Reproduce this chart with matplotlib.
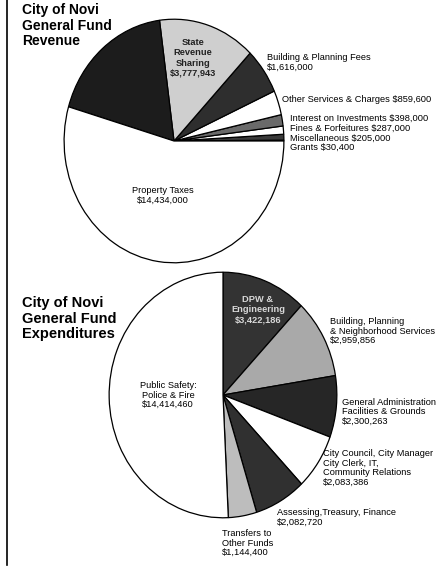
import matplotlib
matplotlib.use("Agg")
import matplotlib.pyplot as plt

plt.rcParams['font.family'] = ['Liberation Sans', 'DejaVu Sans']

W, H = 441, 570

# Revenue (counterclockwise from 3 o'clock)
rev_names = ["Grants", "Miscellaneous", "Fines & Forfeitures", "Interest on Investments",
             "Other Services & Charges", "Building & Planning Fees",
             "State Revenue Sharing", "(illegible)", "Property Taxes"]
rev_values = [30400, 205000, 287000, 398000, 859600, 1616000, 3777943, 4860000, 14434000]
rev_colors = ["#f4f4f4", "#3a3a3a", "#ffffff", "#6a6a6a", "#ffffff", "#2e2e2e",
              "#cfcfcf", "#1c1c1c", "#ffffff"]

# Expenditures (clockwise from 12 o'clock)
exp_names = ["DPW & Engineering", "Building, Planning & Neighborhood Services",
             "General Administration Facilities & Grounds",
             "City Council, City Manager City Clerk, IT, Community Relations",
             "Assessing, Treasury, Finance", "Transfers to Other Funds",
             "Public Safety: Police & Fire"]
exp_values = [3422186, 2959856, 2300263, 2083386, 2082720, 1144400, 14414460]
exp_colors = ["#333333", "#a9a9a9", "#262626", "#ffffff", "#303030", "#bdbdbd", "#ffffff"]

fig = plt.figure(figsize=(W / 100, H / 100), dpi=100)
fig.patch.set_facecolor("white")


def pie_axes(cx, cy, rx, ry):
    ax = fig.add_axes([(cx - rx) / W, (H - cy - ry) / H, 2 * rx / W, 2 * ry / H])
    return ax


ax1 = pie_axes(174, 141, 111, 123)
ax1.pie(rev_values, colors=rev_colors, startangle=0, counterclock=True,
        wedgeprops=dict(edgecolor="black", linewidth=0.9))
ax1.set_aspect("auto")
ax1.set_xlim(-1.01, 1.01)
ax1.set_ylim(-1.01, 1.01)
ax1.axis("off")

ax2 = pie_axes(223, 395, 115, 124)
ax2.pie(exp_values, colors=exp_colors, startangle=90, counterclock=False,
        wedgeprops=dict(edgecolor="black", linewidth=0.9))
ax2.set_aspect("auto")
ax2.set_xlim(-1.01, 1.01)
ax2.set_ylim(-1.01, 1.01)
ax2.axis("off")

# text layer in pixel coordinates
bg = fig.add_axes([0, 0, 1, 1], zorder=5)
bg.set_xlim(0, W)
bg.set_ylim(H, 0)
bg.axis("off")
bg.patch.set_alpha(0)

bg.plot([7, 7], [0, 565], color="black", lw=1.2)

bg.text(22, 3, "City of Novi\nGeneral Fund\nRevenue", fontsize=10, fontweight="bold",
        va="top", ha="left", linespacing=1.15)
bg.text(22, 296, "City of Novi\nGeneral Fund\nExpenditures", fontsize=10.5, fontweight="bold",
        va="top", ha="left", linespacing=1.15)

small = dict(fontsize=6.7, va="center", ha="left", linespacing=1.1)

bg.text(193, 58, "State\nRevenue\nSharing\n$3,777,943", fontsize=6.7, ha="center",
        va="center", linespacing=1.15, fontweight="bold", color="#222222")
bg.text(267, 62, "Building & Planning Fees\n$1,616,000", **small)
bg.text(282, 100, "Other Services & Charges $859,600", **small)
bg.text(290, 118, "Interest on Investments $398,000", **small)
bg.text(290, 128, "Fines & Forfeitures $287,000", **small)
bg.text(290, 138, "Miscellaneous $205,000", **small)
bg.text(290, 147, "Grants $30,400", **small)
bg.text(163, 195, "Property Taxes\n$14,434,000", fontsize=6.7, ha="center", va="center",
        linespacing=1.1)

bg.text(258, 310, "DPW &\nEngineering\n$3,422,186", fontsize=6.7, ha="center", va="center",
        linespacing=1.2, fontweight="bold", color="#d8d8d8")
bg.text(330, 331, "Building, Planning\n& Neighborhood Services\n$2,959,856", **small)
bg.text(342, 412, "General Administration\nFacilities & Grounds\n$2,300,263", **small)
bg.text(323, 468, "City Council, City Manager\nCity Clerk, IT,\nCommunity Relations\n$2,083,386",
        **small)
bg.text(277, 517, "Assessing,Treasury, Finance\n$2,082,720", **small)
bg.text(222, 543, "Transfers to\nOther Funds\n$1,144,400", **small)
bg.text(168, 395, "Public Safety:\nPolice & Fire\n$14,414,460", fontsize=6.7, ha="center",
        va="center", linespacing=1.1)

fig.savefig("out.png", dpi=100, facecolor="white")
